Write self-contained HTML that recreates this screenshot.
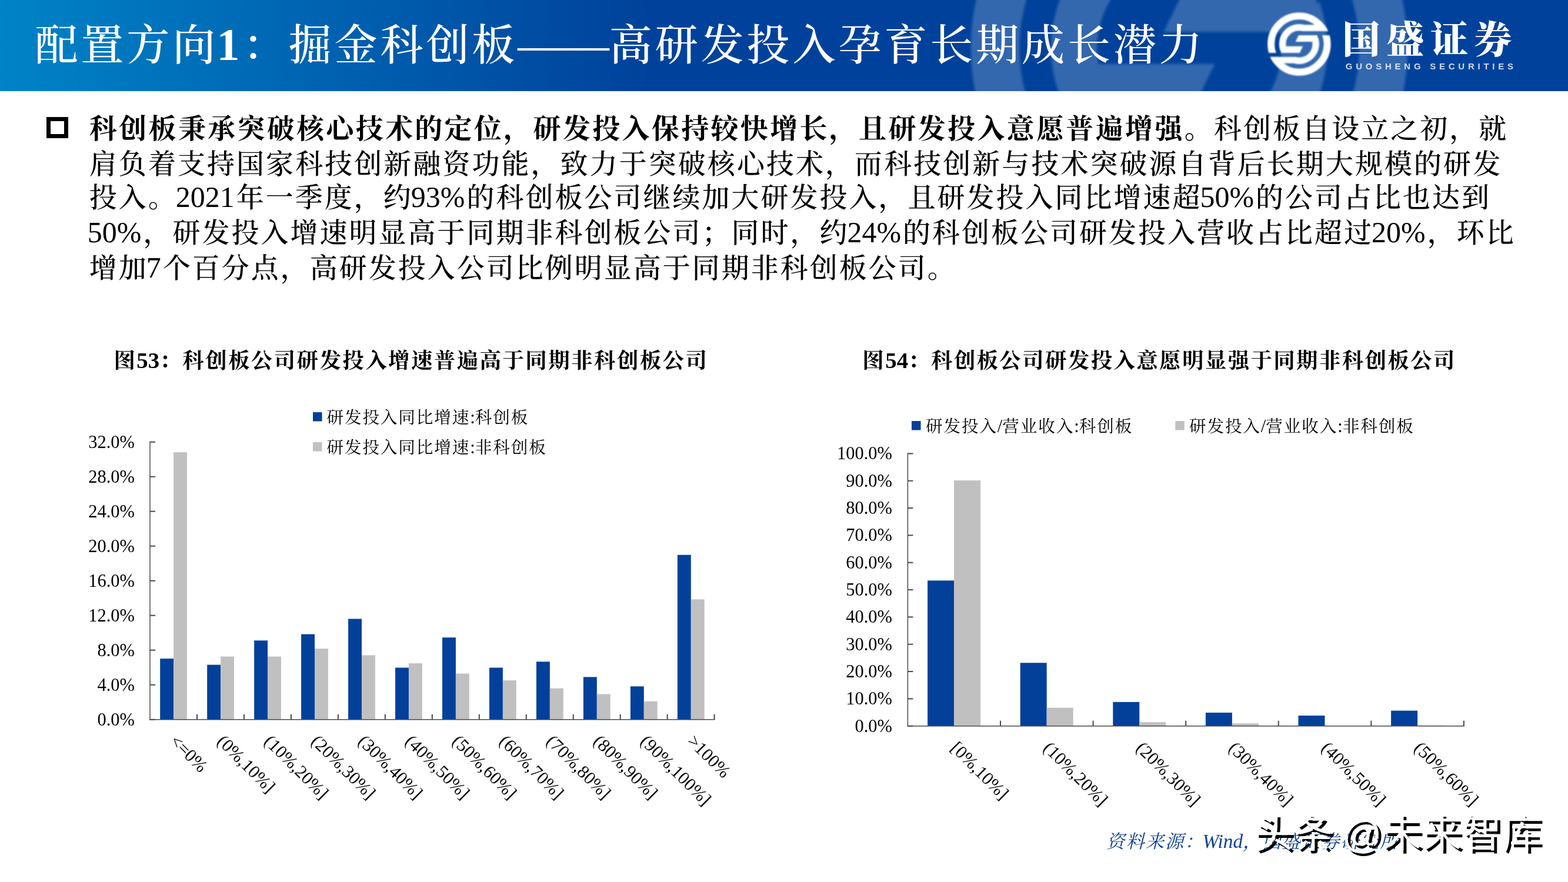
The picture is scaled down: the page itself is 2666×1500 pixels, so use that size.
<!DOCTYPE html>
<html lang="zh-CN"><head><meta charset="utf-8">
<title>配置方向1：掘金科创板——高研发投入孕育长期成长潜力</title>
<style>
html,body{margin:0;padding:0;background:#fff;}
body{width:2666px;height:1500px;overflow:hidden;position:relative;font-family:"Liberation Serif","Noto Serif CJK SC",serif;color:#000;}
#page{position:absolute;left:0;top:0;width:2666px;height:1500px;overflow:hidden;background:#fff;}
.abs{position:absolute;white-space:nowrap;}
#hdr{position:absolute;left:0;top:0;width:2666px;height:154.5px;overflow:hidden;
 background:linear-gradient(to right,#0083c7 0px,#00429b 1100px,#00429b 2666px);}
#hdr svg{position:absolute;left:0;top:0;}
#title{color:#fff;line-height:100px;font-weight:500;}
#title .n{font-weight:700;letter-spacing:0;margin-left:-2.5px;margin-right:5.3px;}
#title .e{letter-spacing:0;}
.d{letter-spacing:0;}
.bul{position:absolute;left:79.2px;top:199.2px;width:36.8px;height:36.3px;border:7px solid #000;box-sizing:border-box;}
.ln{line-height:60px;font-weight:500;}
.ln .d{font-weight:400;}
.ln b{font-weight:700;}
.ln .d{position:relative;top:0.45px;margin-left:-3px;margin-right:3px;}
.ct{font-weight:700;line-height:50px;}
.src{color:#0e4192;font-style:italic;line-height:40px;}
.wm{font-family:"Liberation Sans","Noto Sans CJK SC",sans-serif;font-weight:400;font-size:67.2px;line-height:80px;color:#fff;text-shadow:5px 4.5px 0 #000;}
svg text{font-family:"Liberation Serif","Noto Serif CJK SC",serif;}
.brand{font-weight:900;line-height:80px;color:#fff;filter:blur(0.7px);}
.brand-en{font-family:"Liberation Sans","Noto Sans CJK SC",sans-serif;font-weight:700;line-height:20px;filter:blur(0.6px);}

</style></head><body><div id="page">
<div id="hdr">
<svg width="2666" height="154.5" viewBox="0 0 2666 154.5">
<defs>
<clipPath id="cpA"><polygon points="-60,-60 60,-60 60,-21.9 0,-21.9 0,15.0 -60,15.0"/></clipPath>
<clipPath id="cpO"><circle cx="0" cy="0" r="53.8"/></clipPath>
<g id="armA">
<g clip-path="url(#cpA)"><circle cx="0" cy="0" r="47.8" fill="none" stroke="#fff" stroke-width="11.95"/></g>
<g clip-path="url(#cpO)">
<path d="M 7.64 -27.30 A 28.35 28.35 0 0 0 -26.72 9.47" fill="none" stroke="#fff" stroke-width="11.3" stroke-linecap="butt"/>
<rect x="4.64" y="-32.70" width="64" height="10.80" fill="#fff"/>
<polygon points="-32.07,3.94 6.30,3.94 0.90,15.00 -30.87,15.00" fill="#fff"/>
</g></g>
<g id="logo"><use href="#armA"/><use href="#armA" transform="rotate(180)"/></g>
<filter id="bl1" x="0" y="-200" width="2666" height="600" filterUnits="userSpaceOnUse"><feGaussianBlur stdDeviation="2.0"/></filter>
<filter id="bl2" x="2100" y="0" width="220" height="155" filterUnits="userSpaceOnUse"><feGaussianBlur stdDeviation="0.8"/></filter>
</defs>
<g opacity="0.2" filter="url(#bl1)"><g transform="translate(2022 81.5) scale(6.905)"><use href="#logo"/></g></g>
<g filter="url(#bl2)"><g transform="translate(2208.9 74.9) scale(1.0)"><use href="#logo"/></g></g>
</svg>
<div class="abs" id="title" style="left:59.43px;top:25.8px;font-size:73.132px;letter-spacing:4.788px;">配置方向<span class="n" style="font-size:77.8px">1</span>：掘金科创板<span class="e" style="font-size:77.8px">——</span>高研发投入孕育长期成长潜力</div>
<div class="abs brand" style="left:2282.6px;top:29px;font-size:64px;letter-spacing:10.67px;">国盛证券</div>
<div class="abs brand-en" style="left:2287.8px;top:102.5px;font-size:15px;letter-spacing:5.75px;color:rgba(255,255,255,0.8);">GUOSHENG SECURITIES</div>
</div>
<div class="bul"></div>
<div class="abs ln" style="left:151.80px;top:188.5px;font-size:47.0px;letter-spacing:3.04px;"><b style="letter-spacing:3.32px">科创板秉承突破核心技术的定位，研发投入保持较快增长，且研发投入意愿普遍增强。</b>科创板自设立之初，就</div>
<div class="abs ln" style="left:151.80px;top:248.5px;font-size:47.0px;letter-spacing:3.05px;">肩负着支持国家科技创新融资功能，致力于突破核心技术，而科技创新与技术突破源自背后长期大规模的研发</div>
<div class="abs ln" style="left:151.80px;top:305.0px;font-size:47.0px;letter-spacing:3.0px;">投入。<span class="d" style="font-size:50px">2021</span>年一季度，约<span class="d" style="font-size:50px">93%</span>的科创板公司继续加大研发投入，且研发投入同比增速超<span class="d" style="font-size:50px">50%</span>的公司占比也达到</div>
<div class="abs ln" style="left:151.80px;top:365.0px;font-size:47.0px;letter-spacing:3.0px;"><span class="d" style="font-size:50px">50%</span>，研发投入增速明显高于同期非科创板公司；同时，约<span class="d" style="font-size:50px">24%</span>的科创板公司研发投入营收占比超过<span class="d" style="font-size:50px">20%</span>，环比</div>
<div class="abs ln" style="left:151.80px;top:425.0px;font-size:47.0px;letter-spacing:3.0px;">增加<span class="d" style="font-size:50px">7</span>个百分点，高研发投入公司比例明显高于同期非科创板公司。</div>
<div class="abs ct" style="left:193.47px;top:587.5px;font-size:36.566px;letter-spacing:2.334px;">图<span class="d" style="font-size:38.9px">53</span>：科创板公司研发投入增速普遍高于同期非科创板公司</div>
<div class="abs ct" style="left:1466.37px;top:587.5px;font-size:36.566px;letter-spacing:2.274px;">图<span class="d" style="font-size:38.9px">54</span>：科创板公司研发投入意愿明显强于同期非科创板公司</div>
<svg class="abs" style="left:0;top:0" width="2666" height="1500" viewBox="0 0 2666 1500">
<rect x="272.20" y="1120.10" width="22.90" height="103.60" fill="#03409a"/>
<rect x="295.10" y="769.20" width="22.90" height="454.50" fill="#c0c0c0"/>
<rect x="352.17" y="1130.60" width="22.90" height="93.10" fill="#03409a"/>
<rect x="375.07" y="1116.60" width="22.90" height="107.10" fill="#c0c0c0"/>
<rect x="432.14" y="1089.30" width="22.90" height="134.40" fill="#03409a"/>
<rect x="455.04" y="1116.60" width="22.90" height="107.10" fill="#c0c0c0"/>
<rect x="512.11" y="1078.60" width="22.90" height="145.10" fill="#03409a"/>
<rect x="535.01" y="1103.20" width="22.90" height="120.50" fill="#c0c0c0"/>
<rect x="592.08" y="1052.50" width="22.90" height="171.20" fill="#03409a"/>
<rect x="614.98" y="1114.40" width="22.90" height="109.30" fill="#c0c0c0"/>
<rect x="672.05" y="1135.50" width="22.90" height="88.20" fill="#03409a"/>
<rect x="694.95" y="1128.10" width="22.90" height="95.60" fill="#c0c0c0"/>
<rect x="752.02" y="1084.20" width="22.90" height="139.50" fill="#03409a"/>
<rect x="774.92" y="1145.50" width="22.90" height="78.20" fill="#c0c0c0"/>
<rect x="831.99" y="1135.50" width="22.90" height="88.20" fill="#03409a"/>
<rect x="854.89" y="1157.10" width="22.90" height="66.60" fill="#c0c0c0"/>
<rect x="911.96" y="1125.30" width="22.90" height="98.40" fill="#03409a"/>
<rect x="934.86" y="1170.60" width="22.90" height="53.10" fill="#c0c0c0"/>
<rect x="991.93" y="1151.40" width="22.90" height="72.30" fill="#03409a"/>
<rect x="1014.83" y="1180.50" width="22.90" height="43.20" fill="#c0c0c0"/>
<rect x="1071.90" y="1167.30" width="22.90" height="56.40" fill="#03409a"/>
<rect x="1094.80" y="1192.70" width="22.90" height="31.00" fill="#c0c0c0"/>
<rect x="1151.87" y="943.70" width="22.90" height="280.00" fill="#03409a"/>
<rect x="1174.77" y="1019.30" width="22.90" height="204.40" fill="#c0c0c0"/>
<g stroke="#484848" stroke-width="1.5" fill="none">
<path d="M 255.00 750.70 V 1224.45"/>
<path d="M 254.25 1223.70 H 1215.60"/>
</g>
<g stroke="#484848" stroke-width="2" fill="none">
<path d="M 255.00 1223.70 h 9.00"/>
<path d="M 255.00 1164.70 h 9.00"/>
<path d="M 255.00 1105.70 h 9.00"/>
<path d="M 255.00 1046.70 h 9.00"/>
<path d="M 255.00 987.70 h 9.00"/>
<path d="M 255.00 928.70 h 9.00"/>
<path d="M 255.00 869.70 h 9.00"/>
<path d="M 255.00 810.70 h 9.00"/>
<path d="M 255.00 751.70 h 9.00"/>
<path d="M 334.97 1223.70 v -9.00"/>
<path d="M 414.94 1223.70 v -9.00"/>
<path d="M 494.91 1223.70 v -9.00"/>
<path d="M 574.88 1223.70 v -9.00"/>
<path d="M 654.85 1223.70 v -9.00"/>
<path d="M 734.82 1223.70 v -9.00"/>
<path d="M 814.79 1223.70 v -9.00"/>
<path d="M 894.76 1223.70 v -9.00"/>
<path d="M 974.73 1223.70 v -9.00"/>
<path d="M 1054.70 1223.70 v -9.00"/>
<path d="M 1134.67 1223.70 v -9.00"/>
<path d="M 1214.60 1223.70 v -9.00"/>
</g>
<g font-size="30.5" text-anchor="end" fill="#000">
<text x="229.00" y="1233.70">0.0%</text>
<text x="229.00" y="1174.70">4.0%</text>
<text x="229.00" y="1115.70">8.0%</text>
<text x="229.00" y="1056.70">12.0%</text>
<text x="229.00" y="997.70">16.0%</text>
<text x="229.00" y="938.70">20.0%</text>
<text x="229.00" y="879.70">24.0%</text>
<text x="229.00" y="820.70">28.0%</text>
<text x="229.00" y="761.70">32.0%</text>
</g>
<g font-size="30.5" fill="#000">
<text transform="translate(287.49 1262.20) rotate(45)">&lt;=0%</text>
<text transform="translate(367.45 1262.20) rotate(45)">(0%,10%]</text>
<text transform="translate(447.43 1262.20) rotate(45)">(10%,20%]</text>
<text transform="translate(527.39 1262.20) rotate(45)">(20%,30%]</text>
<text transform="translate(607.37 1262.20) rotate(45)">(30%,40%]</text>
<text transform="translate(687.34 1262.20) rotate(45)">(40%,50%]</text>
<text transform="translate(767.30 1262.20) rotate(45)">(50%,60%]</text>
<text transform="translate(847.27 1262.20) rotate(45)">(60%,70%]</text>
<text transform="translate(927.25 1262.20) rotate(45)">(70%,80%]</text>
<text transform="translate(1007.22 1262.20) rotate(45)">(80%,90%]</text>
<text transform="translate(1087.18 1262.20) rotate(45)">(90%,100%]</text>
<text transform="translate(1167.15 1262.20) rotate(45)">&gt;100%</text>
</g>
<rect x="1577.10" y="987.30" width="45.00" height="247.40" fill="#03409a"/>
<rect x="1622.10" y="817.10" width="45.00" height="417.60" fill="#c0c0c0"/>
<rect x="1734.70" y="1127.30" width="45.00" height="107.40" fill="#03409a"/>
<rect x="1779.70" y="1203.60" width="45.00" height="31.10" fill="#c0c0c0"/>
<rect x="1892.30" y="1193.90" width="45.00" height="40.80" fill="#03409a"/>
<rect x="1937.30" y="1228.20" width="45.00" height="6.50" fill="#c0c0c0"/>
<rect x="2049.90" y="1212.00" width="45.00" height="22.70" fill="#03409a"/>
<rect x="2094.90" y="1230.20" width="45.00" height="4.50" fill="#c0c0c0"/>
<rect x="2207.50" y="1217.00" width="45.00" height="17.70" fill="#03409a"/>
<rect x="2252.50" y="1234.00" width="45.00" height="0.70" fill="#c0c0c0"/>
<rect x="2365.10" y="1208.60" width="45.00" height="26.10" fill="#03409a"/>
<rect x="2410.10" y="1233.70" width="45.00" height="1.00" fill="#c0c0c0"/>
<g stroke="#484848" stroke-width="1.5" fill="none">
<path d="M 1543.40 770.40 V 1235.45"/>
<path d="M 1542.65 1234.70 H 2489.90"/>
</g>
<g stroke="#484848" stroke-width="2" fill="none">
<path d="M 1543.40 1234.70 h 9.00"/>
<path d="M 1543.40 1188.37 h 9.00"/>
<path d="M 1543.40 1142.04 h 9.00"/>
<path d="M 1543.40 1095.71 h 9.00"/>
<path d="M 1543.40 1049.38 h 9.00"/>
<path d="M 1543.40 1003.05 h 9.00"/>
<path d="M 1543.40 956.72 h 9.00"/>
<path d="M 1543.40 910.39 h 9.00"/>
<path d="M 1543.40 864.06 h 9.00"/>
<path d="M 1543.40 817.73 h 9.00"/>
<path d="M 1543.40 771.40 h 9.00"/>
<path d="M 1701.00 1234.70 v -9.00"/>
<path d="M 1858.60 1234.70 v -9.00"/>
<path d="M 2016.20 1234.70 v -9.00"/>
<path d="M 2173.80 1234.70 v -9.00"/>
<path d="M 2331.40 1234.70 v -9.00"/>
<path d="M 2488.90 1234.70 v -9.00"/>
</g>
<g font-size="30.5" text-anchor="end" fill="#000">
<text x="1517.00" y="1244.70">0.0%</text>
<text x="1517.00" y="1198.37">10.0%</text>
<text x="1517.00" y="1152.04">20.0%</text>
<text x="1517.00" y="1105.71">30.0%</text>
<text x="1517.00" y="1059.38">40.0%</text>
<text x="1517.00" y="1013.05">50.0%</text>
<text x="1517.00" y="966.72">60.0%</text>
<text x="1517.00" y="920.39">70.0%</text>
<text x="1517.00" y="874.06">80.0%</text>
<text x="1517.00" y="827.73">90.0%</text>
<text x="1517.00" y="781.40">100.0%</text>
</g>
<g font-size="30.5" fill="#000">
<text transform="translate(1614.70 1273.70) rotate(45)">[0%,10%]</text>
<text transform="translate(1772.30 1273.70) rotate(45)">(10%,20%]</text>
<text transform="translate(1929.90 1273.70) rotate(45)">(20%,30%]</text>
<text transform="translate(2087.50 1273.70) rotate(45)">(30%,40%]</text>
<text transform="translate(2245.10 1273.70) rotate(45)">(40%,50%]</text>
<text transform="translate(2402.70 1273.70) rotate(45)">(50%,60%]</text>
</g>
<rect x="532" y="701" width="15.5" height="15.5" fill="#03409a"/>
<rect x="532" y="752" width="15.5" height="15.5" fill="#c0c0c0"/>
<rect x="1550" y="716" width="15.5" height="15.5" fill="#03409a"/>
<rect x="1998.3" y="716" width="15.5" height="15.5" fill="#c0c0c0"/>
<g font-size="28.67" letter-spacing="1.83" fill="#000">
<text x="555.41" y="719.5">研发投入同比增速<tspan font-size="30.5" letter-spacing="0">:</tspan>科创板</text>
<text x="555.41" y="770.5">研发投入同比增速<tspan font-size="30.5" letter-spacing="0">:</tspan>非科创板</text>
<text x="1573.91" y="734.5">研发投入<tspan font-size="30.5" letter-spacing="0">/</tspan>营业收入<tspan font-size="30.5" letter-spacing="0">:</tspan>科创板</text>
<text x="2021.91" y="734.5">研发投入<tspan font-size="30.5" letter-spacing="0">/</tspan>营业收入<tspan font-size="30.5" letter-spacing="0">:</tspan>非科创板</text>
</g>
</svg>
<div class="abs src" style="left:1881.10px;top:1411px;font-size:31.302px;letter-spacing:1.998px;">资料来源<span style="margin-right:-3px">：</span><span class="d" style="font-size:33.3px">Wind</span>，国盛证券研究所</div>
<div class="abs wm" style="left:2131.5px;top:1378px;letter-spacing:0.6px;word-spacing:-5px">头条 @未来智库</div>
</div></body></html>
